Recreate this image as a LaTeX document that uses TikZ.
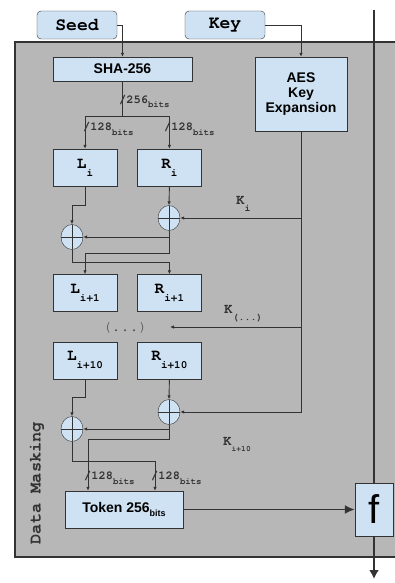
\documentclass[tikz,border=0pt]{standalone}
\usepackage{fontspec}
\setmainfont{Liberation Sans}
\setsansfont{Liberation Sans}
\setmonofont{texgyrecursor}[Extension=.otf, UprightFont=*-regular, BoldFont=*-bold,
  ItalicFont=*-italic, BoldItalicFont=*-bolditalic]
\usetikzlibrary{arrows.meta,calc,positioning,shapes.geometric}
\definecolor{dmpanel}{HTML}{B7B7B7}
\definecolor{dmblue}{HTML}{CFE2F3}
\definecolor{dmline}{HTML}{333333}
\definecolor{dmgray}{HTML}{555555}
\newcommand{\lowsub}[3]{\raisebox{-#1}{\fontsize{#2}{#2}\selectfont #3}}

\begin{document}
\begin{tikzpicture}[
  x=1pt, y=-1pt,
  box/.style={draw=dmline, fill=dmblue, inner sep=0pt, align=center},
  input/.style={box, rounded corners=4pt, minimum width=80pt, minimum height=28pt,
                font=\fontsize{18}{18}\selectfont\ttfamily\bfseries},
  half/.style={box, minimum width=64pt, minimum height=37pt,
               font=\fontsize{16}{16}\selectfont\ttfamily\bfseries},
  block/.style={box, font=\fontsize{14}{15}\selectfont\sffamily\bfseries},
  xor/.style={ellipse, draw=dmline, fill=dmblue, minimum width=22pt, minimum height=25pt,
              inner sep=0pt,
              path picture={\draw[dmline] (path picture bounding box.north) -- (path picture bounding box.south)
                            (path picture bounding box.west) -- (path picture bounding box.east);}},
  wire/.style={draw=dmline, line width=0.9pt, -{Latex[length=4pt,width=3.5pt]}},
  bus/.style={draw=dmline, line width=1.8pt},
  buslbl/.style={anchor=base west, inner sep=0pt, text=dmline,
                 font=\fontsize{12}{12}\selectfont\ttfamily\bfseries},
  keylbl/.style={anchor=base west, inner sep=0pt, text=dmline,
                 font=\fontsize{14}{14}\selectfont\ttfamily\bfseries},
]
  \useasboundingbox (0,0) rectangle (395,583);

  % Masking panel.
  \fill[dmpanel] (15,42) rectangle (395,557);
  \draw[dmline, line width=1.5pt] (395,42) -- (15,42) -- (15,557) -- (395,557);
  \node[rotate=90, font=\fontsize{17}{17}\selectfont\ttfamily\bfseries, text=dmline] (title) at (37,483) {Data Masking};

  % Inputs, hash and key schedule.
  \node[input] (seed) at (77,25) {Seed};
  \node[input] (key) at (225,25) {Key};
  \node[block, minimum width=139pt, minimum height=24pt] (sha) at (122.5,69) {SHA-256};
  \node[block, minimum width=92pt, minimum height=74pt] (aes) at (301,94) {AES\\Key\\Expansion};
  \draw[wire] (seed.east) -| (sha.north);
  \draw[wire] (key.east) -| (aes.north);

  % Halves of every round.
  \node[half] (l0) at (85,167.5) {L\lowsub{8pt}{11}{i}};
  \node[half, right=20pt of l0] (r0) {R\lowsub{8pt}{11}{i}};
  \node[half] (l1) at (85,293) {L\lowsub{8pt}{11}{i+1}};
  \node[half, right=20pt of l1] (r1) {R\lowsub{8pt}{11}{i+1}};
  \node[half] (l10) at (85,360.5) {L\lowsub{8pt}{11}{i+10}};
  \node[half, right=20pt of l10] (r10) {R\lowsub{8pt}{11}{i+10}};

  \node[xor] (x0r) at (169,218) {};
  \node[xor] (x0l) at (72,237) {};
  \node[xor] (x10r) at (169,412) {};
  \node[xor] (x10l) at (72,429) {};

  % Split of the hash.
  \coordinate (split) at (122.5,116);
  \draw[dmline, line width=0.9pt] (sha.south) -- (split);
  \draw[wire] (split) -| (l0.north);
  \draw[wire] (split) -| (r0.north);
  \node[buslbl] (w256) at (119,103) {/256\lowsub{5pt}{9}{bits}};
  \node[buslbl] (w128l) at (83,131) {/128\lowsub{5pt}{9}{bits}};
  \node[buslbl] (w128r) at (164,131) {/128\lowsub{5pt}{9}{bits}};

  % Round keys.
  \node[font=\fontsize{15}{15}\selectfont\ttfamily, text=dmgray] (dots) at (125,328) {(...)};
  \coordinate (kdots) at (170,327);
  \draw[wire] (aes.south) |- (x10r.east);
  \draw[wire] (aes.south |- x0r.east) -- (x0r.east);
  \draw[wire] (aes.south |- kdots) -- (kdots);
  \node[keylbl] (ki) at (236,204) {K\lowsub{7pt}{10}{i}};
  \node[keylbl] (kmid) at (224,313) {K\lowsub{7pt}{10}{(...)}};
  \node[keylbl] (klast) at (223,445) {K\lowsub{6pt}{8}{i+10}};

  % First round.
  \draw[wire] (l0.south) -- (l0.south |- 0,205) -| (x0l.north);
  \draw[wire] (r0.south) -- (x0r.north);
  \draw[wire] (x0r.south) |- (x0l.east);
  \draw[wire] (x0r.south) -- (x0r.south |- 0,253) -| (l1.north);
  \draw[wire] (x0l.south) -- (x0l.south |- 0,262) -| (r1.north);

  % Last round.
  \node[block, minimum width=118pt, minimum height=37pt] (token) at (124,509.5) {Token 256\lowsub{4pt}{9}{bits}};
  \draw[wire] (l10.south) -- (l10.south |- 0,397) -| (x10l.north);
  \draw[wire] (r10.south) -- (x10r.north);
  \draw[wire] (x10r.south) |- (x10l.east);
  \draw[wire] (x10r.south) -- (x10r.south |- 0,439) -| ([xshift=-36pt]token.north);
  \draw[wire] (x10l.south) -- (x10l.south |- 0,461) -| ([xshift=31pt]token.north);
  \node[buslbl] (w128a) at (84,479) {/128\lowsub{5pt}{9}{bits}};
  \node[buslbl] (w128b) at (151,479) {/128\lowsub{5pt}{9}{bits}};

  % Output stream.
  \node[box, minimum width=38pt, minimum height=53pt, font=\fontsize{40}{40}\selectfont\sffamily] (f) at (374,509.5) {f};
  \coordinate (streamtop) at (374,10);
  \coordinate (streamout) at (374,579);
  \draw[bus, -{Latex[length=10pt,width=9pt]}] (token.east) -- (f.west);
  \draw[bus] (streamtop) -- (f.north);
  \draw[bus, -{Latex[length=9pt,width=10pt]}] (f.south) -- (streamout);
\end{tikzpicture}
\end{document}
